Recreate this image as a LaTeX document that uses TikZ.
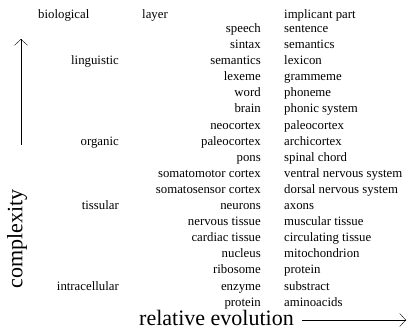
\documentclass[tikz,border=0pt]{standalone}
\usepackage{fontspec}
\setmainfont{Liberation Serif}
\usetikzlibrary{arrows.meta}
\begin{document}
\begin{tikzpicture}[x=1pt,y=-1pt,
    lbl/.style={inner sep=0pt, font=\fontsize{12.8}{14}\selectfont},
    big/.style={inner sep=0pt, font=\fontsize{22}{24}\selectfont},
    axis/.style={thin, -{Straight Barb[length=6pt,width=13pt]}}]
  \useasboundingbox (0,0) rectangle (413,331);
  % column heads
  \node[lbl, anchor=base west] (hbio) at (38,18.5) {biological};
  \node[lbl, anchor=base west] (hlayer) at (142,18.5) {layer};
  \node[lbl, anchor=base west] (hpart) at (284,18.5) {implicant part};
  % layers and their implicant parts
  \foreach \a/\b [count=\i from 0] in {speech/sentence, sintax/semantics,
      semantics/lexicon, lexeme/grammeme, word/phoneme, brain/phonic system,
      neocortex/paleocortex, paleocortex/archicortex, pons/spinal chord,
      somatomotor cortex/ventral nervous system,
      somatosensor cortex/dorsal nervous system, neurons/axons,
      nervous tissue/muscular tissue, cardiac tissue/circulating tissue,
      nucleus/mitochondrion, ribosome/protein, enzyme/substract,
      protein/aminoacids} {
    \node[lbl, anchor=base east] (m\i) at (261,{32.5+16.1*\i}) {\a};
    \node[lbl, anchor=base west] (r\i) at (284,{32.5+16.1*\i}) {\b};
  }
  % biological levels
  \node[lbl, anchor=base east] (ling) at (119,{32.5+16.1*2}) {linguistic};
  \node[lbl, anchor=base east] (org) at (119,{32.5+16.1*7}) {organic};
  \node[lbl, anchor=base east] (tiss) at (119,{32.5+16.1*11}) {tissular};
  \node[lbl, anchor=base east] (intra) at (119,{32.5+16.1*16}) {intracellular};
  % axes
  \node[big, rotate=90] (cplx) at (17,239) {complexity};
  \coordinate (cxbot) at (21,145);
  \coordinate (cxtop) at (21,39);
  \draw[axis] (cxbot) -- (cxtop);
  \node[big, anchor=base west] (relev) at (139,326) {relative evolution};
  \coordinate (evbeg) at (302,320);
  \coordinate (evend) at (406,320);
  \draw[axis] (evbeg) -- (evend);
\end{tikzpicture}
\end{document}
